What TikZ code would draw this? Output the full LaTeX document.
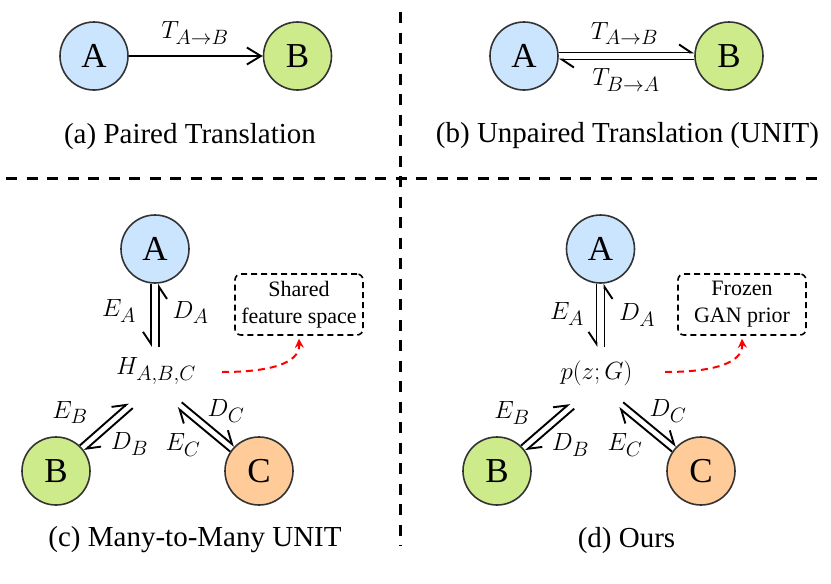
\documentclass[tikz,border=0pt]{standalone}
\usepackage{fontspec}
\setmainfont{Liberation Serif}
\usetikzlibrary{arrows.meta,calc}
\definecolor{cA}{HTML}{CCE5FF}
\definecolor{cB}{HTML}{CDEB8B}
\definecolor{cC}{HTML}{FFCC99}
\definecolor{bd}{HTML}{333333}
\begin{document}
\begin{tikzpicture}[x=1pt,y=-1pt,
 dom/.style={circle, draw=bd, line width=1.6pt, minimum size=68pt, inner sep=0pt, font=\fontsize{35}{40}\selectfont},
 capt/.style={font=\fontsize{29}{34}\selectfont, inner sep=0pt},
 lab/.style={font=\fontsize{29}{34}\selectfont, inner sep=0pt},
 harpL/.style={line width=1.9pt, -{Straight Barb[harpoon, length=12pt, width=16pt]}},
 harpR/.style={line width=1.9pt, -{Straight Barb[harpoon, swap, length=12pt, width=16pt]}},
 plainarr/.style={line width=1.9pt, -{Straight Barb[length=14pt, width=17pt]}},
 divider/.style={line width=3pt, dash pattern=on 11pt off 9.5pt},
 note/.style={draw, rounded corners=6pt, line width=1.6pt, dash pattern=on 6pt off 4pt, minimum width=128pt, minimum height=61pt, inner sep=0pt, align=center, font=\fontsize{22}{27}\selectfont},
 redarr/.style={red, line width=2pt, dash pattern=on 7pt off 5pt, -{Stealth[length=9pt, width=9pt]}}
]
\useasboundingbox (0,0) rectangle (831,584);

% dividers
\coordinate (hl1) at (6,178);
\coordinate (hl2) at (822,178);
\coordinate (vl1) at (400.5,12);
\coordinate (vl2) at (400.5,546);
\draw[divider] (hl1) -- (hl2);
\draw[divider] (vl1) -- (vl2);

% (a)
\node[dom, fill=cA] (aA) at (94,56) {A};
\node[dom, fill=cB] (aB) at (297.5,56) {B};
\draw[plainarr] (aA) -- (aB);
\node[lab] (aT) at (195,33) {$T_{A\rightarrow B}$};
\node[capt] (acap) at (190,137) {(a) Paired Translation};

% (b)
\node[dom, fill=cA] (bA) at (524,56) {A};
\node[dom, fill=cB] (bB) at (729,56) {B};
\draw[harpL] ([yshift=3.5pt]bA.east) -- ([yshift=3.5pt]bB.west);
\draw[harpL] ([yshift=-3.5pt]bB.west) -- ([yshift=-3.5pt]bA.east);
\node[lab] (bT1) at (624.5,33.5) {$T_{A\rightarrow B}$};
\node[lab] (bT2) at (626,80) {$T_{B\rightarrow A}$};
\node[capt] (bcap) at (627.5,135.5) {(b) Unpaired Translation (UNIT)};

% (c)
\node[dom, fill=cA] (cA) at (155,249) {A};
\node[dom, fill=cB] (cB) at (56,471) {B};
\node[dom, fill=cC] (cC) at (259,471) {C};
\node[lab] (cH) at (156,371) {$H_{A,B,C}$};
\coordinate (chA) at (155,347);
\coordinate (chB) at (130.5,405.5);
\coordinate (chC) at (179.5,405);
\draw[harpR, transform canvas={shift={(-4,0)}}] (cA) -- (chA);
\draw[harpR, transform canvas={shift={(4,0)}}] (chA) -- (cA);
\draw[harpL, transform canvas={shift={(-2.3,-2.6)}}] (cB) -- (chB);
\draw[harpL, transform canvas={shift={(2.3,2.6)}}] (chB) -- (cB);
\draw[harpL, transform canvas={shift={(2.2,-2.7)}}] (chC) -- (cC);
\draw[harpL, transform canvas={shift={(-2.2,2.7)}}] (cC) -- (chC);
\node[lab] at (119,311) {$E_A$};
\node[lab] at (190.5,312.5) {$D_A$};
\node[lab] at (70,412.5) {$E_B$};
\node[lab] at (129.5,444) {$D_B$};
\node[lab] at (183,445) {$E_C$};
\node[lab] at (226,411) {$D_C$};
\node[note] (cbox) at (299,304.5) {Shared\\feature space};
\coordinate (cr) at (222,372);
\draw[redarr] (cr) .. controls (268,372) and (300,364) .. ([yshift=-3pt]cbox.south);
\node[capt] (ccap) at (195,540) {(c) Many-to-Many UNIT};

% (d)
\node[dom, fill=cA] (dA) at (600.5,249) {A};
\node[dom, fill=cB] (dB) at (497,471) {B};
\node[dom, fill=cC] (dC) at (701,471) {C};
\node[lab] (dH) at (596.5,373) {$p(z;G)$};
\coordinate (dhA) at (600.5,347);
\coordinate (dhB) at (572,406);
\coordinate (dhC) at (621,405);
\draw[harpR, transform canvas={shift={(-4,0)}}] (dA) -- (dhA);
\draw[harpR, transform canvas={shift={(4,0)}}] (dhA) -- (dA);
\draw[harpL, transform canvas={shift={(-2.3,-2.6)}}] (dB) -- (dhB);
\draw[harpL, transform canvas={shift={(2.3,2.6)}}] (dhB) -- (dB);
\draw[harpL, transform canvas={shift={(2.2,-2.7)}}] (dhC) -- (dC);
\draw[harpL, transform canvas={shift={(-2.2,2.7)}}] (dC) -- (dhC);
\node[lab] at (567,314) {$E_A$};
\node[lab] at (637,315) {$D_A$};
\node[lab] at (512,413) {$E_B$};
\node[lab] at (570.5,445) {$D_B$};
\node[lab] at (625,445) {$E_C$};
\node[lab] at (668,411) {$D_C$};
\node[note] (dbox) at (742,304.5) {Frozen\\GAN prior};
\coordinate (dr) at (665,372);
\draw[redarr] (dr) .. controls (711,372) and (743,364) .. ([yshift=-3pt]dbox.south);
\node[capt] (dcap) at (626.5,541) {(d) Ours};
\end{tikzpicture}
\end{document}
